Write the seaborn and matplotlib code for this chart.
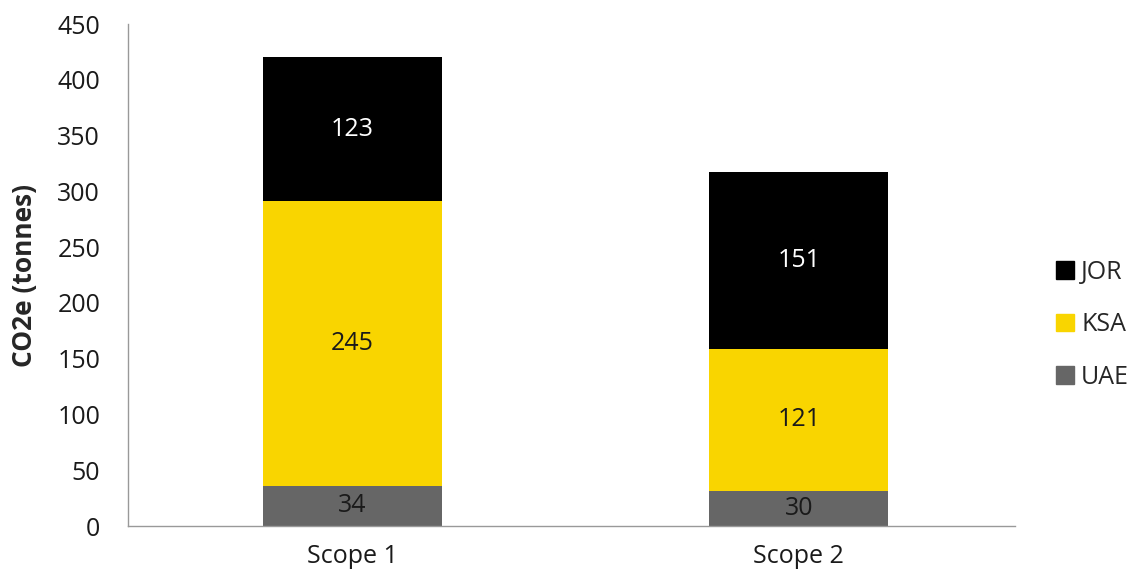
import pandas as pd
import numpy as np
import matplotlib
matplotlib.use('Agg')
import matplotlib.pyplot as plt
import seaborn as sns
from matplotlib.patches import Patch

scopes = ['Scope 1', 'Scope 2']
# segment heights as drawn in the picture
uae = [35.9, 31.6]
ksa = [255.4, 127.1]
jor = [129.1, 158.6]
# data labels as printed on the bars
uae_labels = ['34', '30']
ksa_labels = ['245', '121']
jor_labels = ['123', '151']

series_names = ['UAE', 'KSA', 'JOR']
series_colors = ['#666666', '#F9D500', '#000000']
label_colors = ['#1a1a1a', '#1a1a1a', 'white']

sns.set_style('white')
plt.rcParams['font.family'] = ['Open Sans', 'DejaVu Sans']
FS = 18

fig = plt.figure(figsize=(11.42, 5.73), dpi=100)
ax = fig.add_axes([0.112, 0.082, 0.777, 0.876])

values = [uae, ksa, jor]
labels = [uae_labels, ksa_labels, jor_labels]
tops = np.cumsum(np.array(values), axis=0)

# draw tallest first so lower layers sit on top
for i in reversed(range(3)):
    df = pd.DataFrame({'scope': scopes, 'total': tops[i]})
    sns.barplot(data=df, x='scope', y='total', color=series_colors[i],
                width=0.4, ax=ax, saturation=1, edgecolor='none')

for i in range(3):
    bottoms = tops[i] - np.array(values[i])
    for j, s in enumerate(scopes):
        ax.text(j, bottoms[j] + values[i][j] / 2, labels[i][j],
                ha='center', va='center', fontsize=FS, color=label_colors[i])

ax.set_ylim(0, 450)
ax.set_xlim(-0.503, 1.485)
ax.set_yticks(range(0, 451, 50))
ax.set_xlabel('')
ax.set_ylabel('CO2e (tonnes)', fontsize=19, fontweight='bold', labelpad=14)
ax.tick_params(axis='y', labelsize=FS, length=0, pad=20, colors='#1a1a1a')
ax.tick_params(axis='x', labelsize=FS, length=0, pad=13, colors='#1a1a1a')
sns.despine(ax=ax)
for sp in ['left', 'bottom']:
    ax.spines[sp].set_color('#999999')
    ax.spines[sp].set_linewidth(1)

handles = [Patch(color=series_colors[i], label=series_names[i]) for i in [2, 1, 0]]
fig.legend(handles=handles, loc='center left', bbox_to_anchor=(0.905, 0.433),
           frameon=False, fontsize=FS, handlelength=0.7, handleheight=0.7,
           handletextpad=0.3, labelspacing=1.1)

plt.savefig('out.png', dpi=100)
